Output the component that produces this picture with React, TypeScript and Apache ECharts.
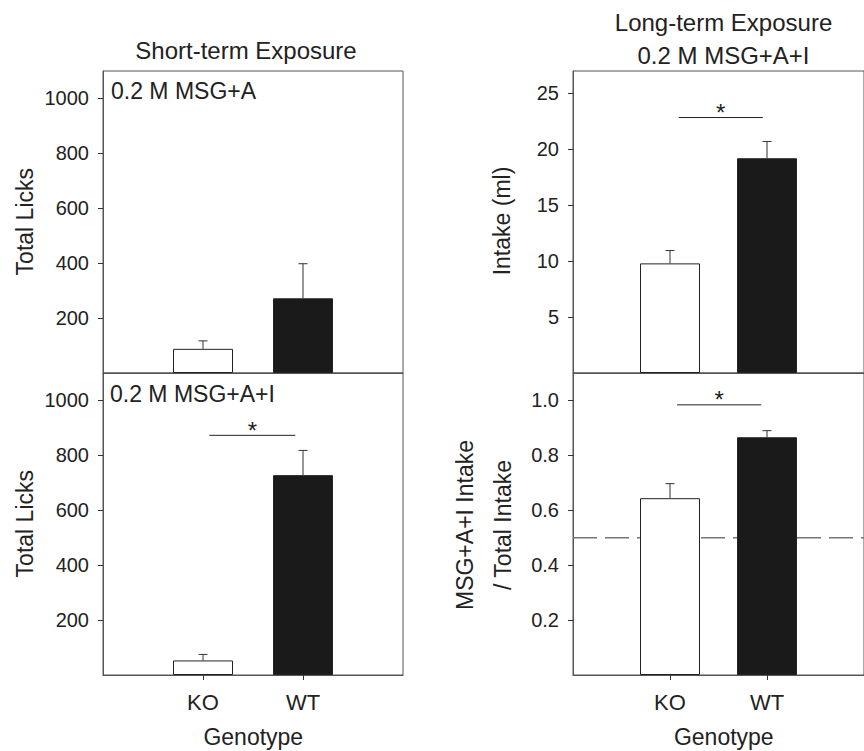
import React, { useEffect, useRef } from "react";
import * as echarts from "echarts";

// ---- data ----
const genotypes = ["KO", "WT"];
const genotypePos = [1, 2];

const shortA = [88, 272];
const shortAErr = [29, 126];

const shortAI = [53, 728];
const shortAIErr = [22, 90];
const shortAISig = [1.063, 1.923, 873];

const longIntake = [9.8, 19.2];
const longIntakeErr = [1.15, 1.5];
const longIntakeSig = [1.09, 1.957, 22.84];

const intakeRatio = [0.644, 0.866];
const intakeRatioErr = [0.053, 0.024];
const intakeRatioSig = [1.073, 1.94, 0.984];
const chanceLevel = 0.5;

const licksTicks = [200, 400, 600, 800, 1000];
const intakeTicks = [5, 10, 15, 20, 25];
const ratioTicks = [0.2, 0.4, 0.6, 0.8, 1.0];

const FONT = "Liberation Sans, Arial, Helvetica, sans-serif";
const TEXT = "#222";
const LINE = "#555";

function barData(vals: number[]) {
  return vals.map((v, i) => ({
    value: [genotypePos[i], v],
    itemStyle: {
      color: i === 0 ? "#ffffff" : "#1a1a1a",
      borderColor: "#222",
      borderWidth: 1,
    },
  }));
}

function errData(vals: number[], errs: number[]) {
  return vals.map((v, i) => [genotypePos[i], v, v + errs[i]]);
}

const errRender = (params: any, api: any) => {
  const x = api.value(0);
  const p0 = api.coord([x, api.value(1)]);
  const p1 = api.coord([x, api.value(2)]);
  const st = { stroke: "#333", lineWidth: 1 };
  return {
    type: "group",
    children: [
      { type: "line", shape: { x1: p0[0], y1: p0[1], x2: p1[0], y2: p1[1] }, style: st },
      { type: "line", shape: { x1: p1[0] - 4.5, y1: p1[1], x2: p1[0] + 4.5, y2: p1[1] }, style: st },
    ],
  };
};

const sigRender = (params: any, api: any) => {
  const a = api.coord([api.value(0), api.value(2)]);
  const b = api.coord([api.value(1), api.value(2)]);
  return {
    type: "group",
    children: [
      { type: "line", shape: { x1: a[0], y1: a[1], x2: b[0], y2: b[1] }, style: { stroke: "#222", lineWidth: 1 } },
      {
        type: "text",
        style: {
          text: "*",
          x: (a[0] + b[0]) / 2,
          y: a[1] - 5,
          textAlign: "center",
          textVerticalAlign: "middle",
          font: `24px ${FONT}`,
          fill: TEXT,
        },
      },
    ],
  };
};

export default function App() {
  const ref = useRef<HTMLDivElement>(null);
  useEffect(() => {
    if (!ref.current) return;
    const chart = echarts.init(ref.current, null, { renderer: "svg" });

    const grids = [
      { left: 103, top: 71, width: 300, height: 302 },
      { left: 103, top: 373, width: 300, height: 302 },
      { left: 573, top: 71, width: 301, height: 302 },
      { left: 573, top: 373, width: 301, height: 302 },
    ].map((g) => ({ ...g, show: true, borderColor: LINE, borderWidth: 1, backgroundColor: "transparent" }));

    const xAxis = [0, 1, 2, 3].map((i) => {
      const bottom = i === 1 || i === 3;
      return {
        type: "value",
        gridIndex: i,
        min: 0,
        max: 3,
        splitLine: { show: false },
        axisLine: { show: true, onZero: false, lineStyle: { color: LINE } },
        axisTick: {
          show: bottom,
          customValues: genotypePos,
          length: 5,
          lineStyle: { color: "#333" },
        },
        axisLabel: {
          show: bottom,
          customValues: genotypePos,
          formatter: (v: number) => genotypes[genotypePos.indexOf(v)] ?? "",
          fontSize: 22,
          fontFamily: FONT,
          color: TEXT,
          margin: 16,
        },
      };
    });

    const yDefs = [
      { max: 1100, ticks: licksTicks, fmt: (v: number) => String(v) },
      { max: 1100, ticks: licksTicks, fmt: (v: number) => String(v) },
      { max: 27, ticks: intakeTicks, fmt: (v: number) => String(v) },
      { max: 1.1, ticks: ratioTicks, fmt: (v: number) => v.toFixed(1) },
    ];
    const yAxis = yDefs.map((d, i) => ({
      type: "value",
      gridIndex: i,
      min: 0,
      max: d.max,
      splitLine: { show: false },
      axisLine: { show: true, onZero: false, lineStyle: { color: LINE } },
      axisTick: { show: true, customValues: d.ticks, length: 5, lineStyle: { color: "#333" } },
      axisLabel: {
        customValues: d.ticks,
        formatter: d.fmt,
        fontSize: 20,
        fontFamily: FONT,
        color: TEXT,
        margin: 14,
      },
    }));

    const panels = [
      { vals: shortA, errs: shortAErr, sig: null as number[] | null },
      { vals: shortAI, errs: shortAIErr, sig: shortAISig },
      { vals: longIntake, errs: longIntakeErr, sig: longIntakeSig },
      { vals: intakeRatio, errs: intakeRatioErr, sig: intakeRatioSig },
    ];

    const series: any[] = [];
    panels.forEach((p, i) => {
      series.push({
        type: "bar",
        xAxisIndex: i,
        yAxisIndex: i,
        barWidth: 60,
        data: barData(p.vals),
        z: 3,
      });
      series.push({
        type: "custom",
        xAxisIndex: i,
        yAxisIndex: i,
        renderItem: errRender,
        encode: { x: 0, y: [1, 2] },
        data: errData(p.vals, p.errs),
        z: 4,
      });
      if (p.sig) {
        series.push({
          type: "custom",
          xAxisIndex: i,
          yAxisIndex: i,
          renderItem: sigRender,
          encode: { x: [0, 1], y: 2 },
          data: [p.sig],
          z: 4,
        });
      }
    });
    series.push({
      type: "line",
      xAxisIndex: 3,
      yAxisIndex: 3,
      symbol: "none",
      data: [
        [0, chanceLevel],
        [3, chanceLevel],
      ],
      lineStyle: { color: "#777", width: 1.5, type: [24, 8] },
      z: 1,
    });

    const txt = (text: string, x: number, y: number, size: number, align = "center", rot = 0) => ({
      type: "text",
      x,
      y,
      rotation: rot,
      style: {
        text,
        textAlign: align,
        textVerticalAlign: "middle",
        font: `${size}px ${FONT}`,
        fill: TEXT,
      },
      z: 10,
    });

    const graphic = [
      txt("Short-term Exposure", 246, 50.5, 24),
      txt("Long-term Exposure", 723.5, 22, 24),
      txt("0.2 M MSG+A+I", 723.5, 55, 24),
      txt("0.2 M MSG+A", 111, 90.5, 23, "left"),
      txt("0.2 M MSG+A+I", 110, 394, 23, "left"),
      txt("Total Licks", 24.7, 221.7, 23, "center", Math.PI / 2),
      txt("Total Licks", 24.7, 523.7, 23, "center", Math.PI / 2),
      txt("Intake (ml)", 502, 221, 23, "center", Math.PI / 2),
      txt("MSG+A+I Intake", 464.7, 525, 23, "center", Math.PI / 2),
      txt("/ Total Intake", 503.3, 525, 23, "center", Math.PI / 2),
      txt("Genotype", 253.3, 737, 23),
      txt("Genotype", 723.8, 737, 23),
    ];

    chart.setOption({
      animation: false,
      backgroundColor: "#ffffff",
      textStyle: { fontFamily: FONT },
      grid: grids,
      xAxis,
      yAxis,
      series,
      graphic,
    });
    return () => chart.dispose();
  }, []);

  return (
    <div
      ref={ref}
      style={{ position: "fixed", left: 0, top: 0, width: 864, height: 751, background: "#fff" }}
    />
  );
}
